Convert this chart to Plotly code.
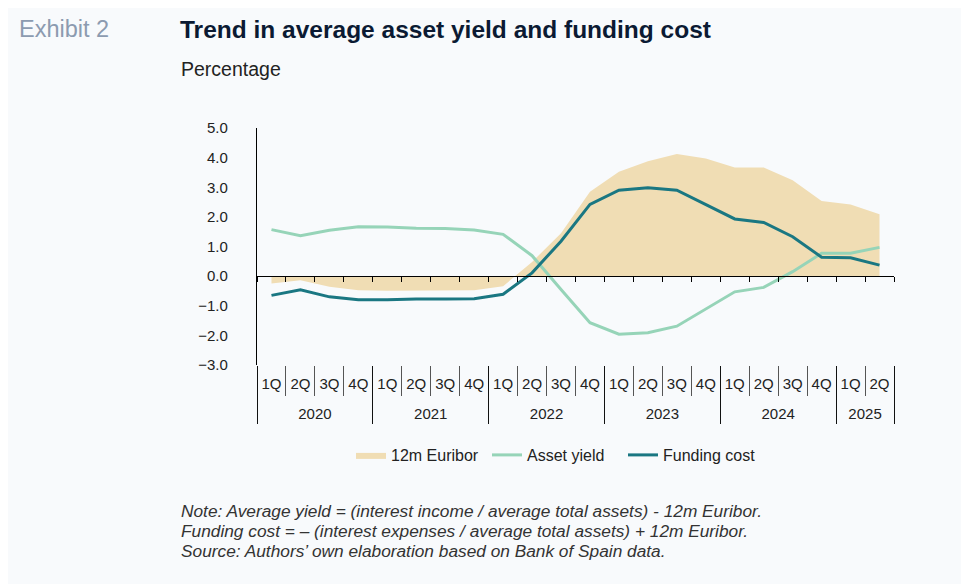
import plotly.graph_objects as go

years = ["2020"] * 4 + ["2021"] * 4 + ["2022"] * 4 + ["2023"] * 4 + ["2024"] * 4 + ["2025"] * 2
quarters = ["1Q", "2Q", "3Q", "4Q"] * 5 + ["1Q", "2Q"]

euribor = [-0.25, -0.14, -0.36, -0.48, -0.49, -0.49, -0.49, -0.48, -0.34, 0.48, 1.45, 2.85,
           3.52, 3.88, 4.12, 3.97, 3.67, 3.67, 3.24, 2.54, 2.42, 2.09]
asset_yield = [1.57, 1.36, 1.55, 1.67, 1.66, 1.62, 1.61, 1.56, 1.41, 0.69, -0.45, -1.57,
               -1.96, -1.91, -1.69, -1.10, -0.53, -0.38, 0.15, 0.77, 0.77, 0.97]
funding_cost = [-0.65, -0.46, -0.70, -0.80, -0.80, -0.77, -0.77, -0.76, -0.61, 0.11, 1.18, 2.42,
                2.90, 2.98, 2.90, 2.42, 1.93, 1.81, 1.33, 0.64, 0.62, 0.37]

y_min, y_max = -3, 5
y_ticks = [-3, -2, -1, 0, 1, 2, 3, 4, 5]

# page body has an 8px default margin; figure coordinates = page coordinates - 8
OFF = 8
W, H = 969, 584
L, R, T, B = 257 - OFF, W - (894 - OFF), 128 - OFF, H - (365 - OFF)
PW, PH = W - L - R, H - T - B


def px(x):
    return (x - OFF - L) / PW


def py(y):
    return (H - B - (y - OFF)) / PH


FONT = "Liberation Sans, Arial, sans-serif"
n = len(quarters)
idx = list(range(n))
x_range = [-0.5, n - 0.5]

# category boundaries, year boundaries and year centres derived from the data
q_bounds = [i - 0.5 for i in range(n + 1)]
year_order = list(dict.fromkeys(years))
y_bounds = [-0.5] + [i - 0.5 for i in range(1, n) if years[i] != years[i - 1]] + [n - 0.5]
y_centers = [sum(i for i in idx if years[i] == yr) / years.count(yr) for yr in year_order]

fig = go.Figure()
fig.add_trace(go.Scatter(
    x=idx, y=euribor, name="12m Euribor", mode="lines", fill="tozeroy",
    line=dict(width=0, color="#F0DDB4"), fillcolor="#F0DDB4",
))
fig.add_trace(go.Scatter(
    x=idx, y=asset_yield, name="Asset yield", mode="lines",
    line=dict(width=3, color="#96D4B8"),
))
fig.add_trace(go.Scatter(
    x=idx, y=funding_cost, name="Funding cost", mode="lines",
    line=dict(width=3, color="#1A7782"),
))

zero_pos = (0 - y_min) / (y_max - y_min)

common = dict(range=x_range, showgrid=False, zeroline=False, fixedrange=True)

fig.update_layout(
    width=W, height=H,
    margin=dict(l=L, r=R, t=T, b=B),
    paper_bgcolor="#F8FAFC", plot_bgcolor="#F8FAFC",
    font=dict(family=FONT, size=15, color="#222222"),
    showlegend=True,
    legend=dict(
        orientation="h", x=px(351), y=py(455), xanchor="left", yanchor="middle",
        font=dict(size=16, color="#222222"), bgcolor="rgba(0,0,0,0)",
        itemwidth=30, entrywidth=91, entrywidthmode="pixels", tracegroupgap=0,
    ),
    # quarter labels
    xaxis=dict(
        **common, showline=False, tickvals=idx, ticktext=quarters, tickangle=0,
        ticks="outside", ticklen=5, tickcolor="rgba(0,0,0,0)",
        tickfont=dict(size=15, color="#222222"),
    ),
    # zero baseline with boundary ticks
    xaxis2=dict(
        **common, overlaying="x", anchor="free", position=zero_pos, side="bottom",
        showline=True, linecolor="#000000", linewidth=1.3,
        tickvals=q_bounds, ticks="outside", ticklen=5,
        tickcolor="#000000", tickwidth=1.3, showticklabels=False,
    ),
    # quarter separators
    xaxis3=dict(
        **common, overlaying="x", anchor="free", position=0, side="bottom",
        showline=False, tickvals=q_bounds, ticks="outside", ticklen=30,
        tickcolor="#555555", tickwidth=1.3, showticklabels=False,
    ),
    # year dividers
    xaxis4=dict(
        **common, overlaying="x", anchor="free", position=0, side="bottom",
        showline=False, tickvals=y_bounds, ticks="outside", ticklen=58,
        tickcolor="#111111", tickwidth=1.3, showticklabels=False,
    ),
    # year labels
    xaxis5=dict(
        **common, overlaying="x", anchor="free", position=0, side="bottom",
        showline=False, tickvals=y_centers, ticktext=year_order, tickangle=0,
        ticks="outside", ticklen=35, tickcolor="rgba(0,0,0,0)",
        tickfont=dict(size=15, color="#222222"),
    ),
    yaxis=dict(
        range=[y_min, y_max], tickvals=y_ticks, tickformat=".1f", fixedrange=True,
        showgrid=False, zeroline=False, showline=True, linecolor="#000000", linewidth=1.3,
        ticks="outside", ticklen=25, tickcolor="rgba(0,0,0,0)",
        tickfont=dict(size=15, color="#222222"),
    ),
)

# invisible traces so the helper axes are drawn
for ax in ["x2", "x3", "x4", "x5"]:
    fig.add_trace(go.Scatter(x=[idx[0]], y=[0], xaxis=ax, mode="markers",
                             marker=dict(opacity=0), showlegend=False, hoverinfo="skip"))

fig.add_annotation(text="Exhibit 2", xref="paper", yref="paper", x=px(17), y=py(29),
                   xanchor="left", yanchor="middle", showarrow=False,
                   font=dict(size=23.5, color="#8C9BB0", family=FONT))
fig.add_annotation(text="<b>Trend in average asset yield and funding cost</b>", xref="paper", yref="paper",
                   x=px(178), y=py(29), xanchor="left", yanchor="middle", showarrow=False,
                   font=dict(size=24.5, color="#0B1A33", family=FONT))
fig.add_annotation(text="Percentage", xref="paper", yref="paper", x=px(179), y=py(69),
                   xanchor="left", yanchor="middle", showarrow=False,
                   font=dict(size=19.5, color="#222222", family=FONT))

notes = [
    "Note: Average yield = (interest income / average total assets) - 12m Euribor.",
    "Funding cost = – (interest expenses / average total assets) + 12m Euribor.",
    "Source: Authors’ own elaboration based on Bank of Spain data.",
]
for i, line in enumerate(notes):
    fig.add_annotation(
        text="<i>" + line + "</i>", xref="paper", yref="paper",
        x=px(179), y=py(511 + 20 * i), xanchor="left", yanchor="middle",
        align="left", showarrow=False,
        font=dict(size=17.3, color="#333333", family=FONT),
    )

fig.write_html("out.html")
